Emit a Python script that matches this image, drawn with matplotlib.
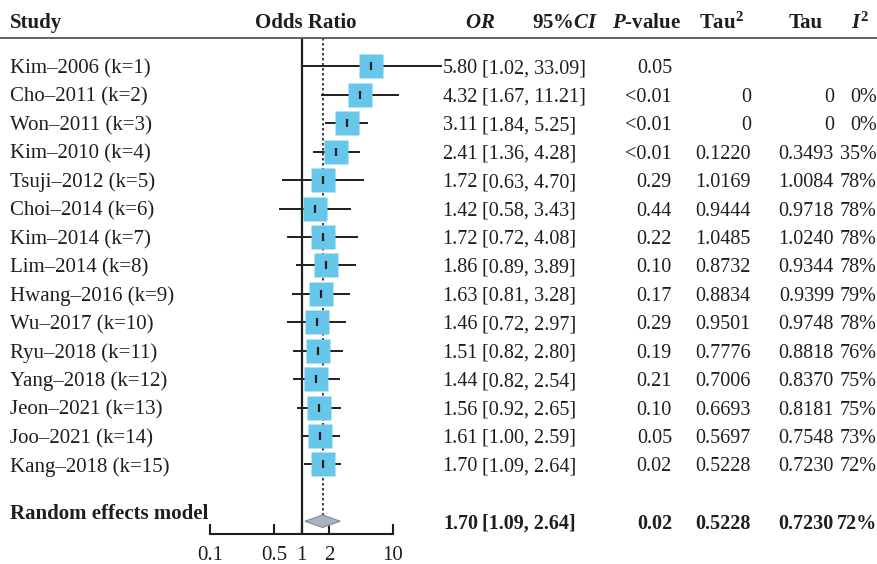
import matplotlib
matplotlib.use("Agg")
import matplotlib.pyplot as plt
from matplotlib.lines import Line2D
from matplotlib import transforms

studies = ["Kim–2006 (k=1)", "Cho–2011 (k=2)", "Won–2011 (k=3)", "Kim–2010 (k=4)",
           "Tsuji–2012 (k=5)", "Choi–2014 (k=6)", "Kim–2014 (k=7)", "Lim–2014 (k=8)",
           "Hwang–2016 (k=9)", "Wu–2017 (k=10)", "Ryu–2018 (k=11)", "Yang–2018 (k=12)",
           "Jeon–2021 (k=13)", "Joo–2021 (k=14)", "Kang–2018 (k=15)"]
odds = [5.80, 4.32, 3.11, 2.41, 1.72, 1.42, 1.72, 1.86, 1.63, 1.46, 1.51, 1.44, 1.56, 1.61, 1.70]
ci_lo = [1.02, 1.67, 1.84, 1.36, 0.63, 0.58, 0.72, 0.89, 0.81, 0.72, 0.82, 0.82, 0.92, 1.00, 1.09]
ci_hi = [33.09, 11.21, 5.25, 4.28, 4.70, 3.43, 4.08, 3.89, 3.28, 2.97, 2.80, 2.54, 2.65, 2.59, 2.64]
pvals = ["0.05", "<0.01", "<0.01", "<0.01", "0.29", "0.44", "0.22", "0.10", "0.17",
         "0.29", "0.19", "0.21", "0.10", "0.05", "0.02"]
tau2 = ["", "0", "0", "0.1220", "1.0169", "0.9444", "1.0485", "0.8732", "0.8834",
        "0.9501", "0.7776", "0.7006", "0.6693", "0.5697", "0.5228"]
tau = ["", "0", "0", "0.3493", "1.0084", "0.9718", "1.0240", "0.9344", "0.9399",
       "0.9748", "0.8818", "0.8370", "0.8181", "0.7548", "0.7230"]
i2 = ["", "0%", "0%", "35%", "78%", "78%", "78%", "78%", "79%", "78%", "76%", "75%",
      "75%", "73%", "72%"]

pooled = 1.70
pooled_lo = 1.09
pooled_hi = 2.64
pooled_p = "0.02"
pooled_tau2 = "0.5228"
pooled_tau = "0.7230"
pooled_i2 = "72%"

xticks = [0.1, 0.5, 1, 2, 10]
xticklabels = ["0.1", "0.5", "1", "2", "10"]

plt.rcParams["font.family"] = "Liberation Serif"
plt.rcParams["mathtext.fontset"] = "custom"
plt.rcParams["mathtext.rm"] = "Liberation Serif:bold"
plt.rcParams["mathtext.it"] = "Liberation Serif:italic:bold"

W, H = 878, 564
fig = plt.figure(figsize=(W / 100, H / 100), dpi=100)
ax = fig.add_axes([210 / W, (H - 534) / H, 183 / W, 496 / H])
ax.set_xscale("log")
ax.set_xlim(0.1, 10)
ax.set_ylim(17.45, 0)

ink = "#1e1e1e"
fs = 15      # labels
fv = 14.5    # numbers

rows = list(range(1, len(studies) + 1))
for y, o, lo, hi in zip(rows, odds, ci_lo, ci_hi):
    ax.plot([lo, hi], [y, y], color=ink, lw=1.4, clip_on=False, zorder=2)
    ax.plot(o, y, marker="s", ms=17, color="#66C7EA", mec="none", clip_on=False, zorder=3)
    ax.plot(o, y, marker="|", ms=6, mew=1.6, color=ink, clip_on=False, zorder=4)

y_sum = 17
ax.fill([pooled_lo, pooled, pooled_hi, pooled], [y_sum, y_sum - 0.22, y_sum, y_sum + 0.22],
        facecolor="#A9B4BE", edgecolor="#7f8b96", lw=0.8, zorder=3)

ax.axvline(1, color=ink, lw=1.6, zorder=1)
ax.plot([pooled, pooled], [0, y_sum - 0.22], color=ink, lw=1.2, ls=(0, (1.5, 1.5)), zorder=1)

for s in ["top", "left", "right"]:
    ax.spines[s].set_visible(False)
ax.spines["bottom"].set_linewidth(1.5)
ax.spines["bottom"].set_color(ink)
ax.set_yticks([])
ax.set_xticks(xticks)
ax.set_xticklabels(xticklabels)
ax.minorticks_off()
ax.tick_params(axis="x", direction="in", length=7, width=1.5, color=ink,
               labelsize=fs, labelcolor=ink, pad=9)

fig.add_artist(Line2D([0, 1], [(H - 38) / H, (H - 38) / H], color="#555555", lw=1.3))

tr = transforms.blended_transform_factory(fig.transFigure, ax.transData)

def put(xpx, y, s, ha="right", size=fv, **kw):
    fig.text(xpx / W, y, s, transform=tr, ha=ha, va="center_baseline", fontsize=size,
             color=ink, **kw)

# header
yh = -0.6
put(10, yh, "Study", ha="left", size=fs, fontweight="bold")
put(306, yh, "Odds Ratio", ha="center", size=fs, fontweight="bold")
put(480, yh, "$OR$", ha="center", size=fs, fontweight="bold")
put(565, yh, "95%$CI$", ha="center", size=fs, fontweight="bold")
put(646, yh, "$P$-value", ha="center", size=fs, fontweight="bold")
put(721, yh, "Tau$^{2}$", ha="center", size=fs, fontweight="bold")
put(806, yh, "Tau", ha="center", size=fs, fontweight="bold")
put(860, yh, "$I^{2}$", ha="center", size=fs, fontweight="bold")

for y, name, o, lo, hi, p, t2, t, i in zip(rows, studies, odds, ci_lo, ci_hi, pvals, tau2, tau, i2):
    put(10, y, name, ha="left", size=fs)
    put(478, y, f"{o:.2f}")
    put(482, y, f"[{lo:.2f}, {hi:.2f}]", ha="left")
    put(672, y, p)
    put(751, y, t2)
    put(834, y, t)
    put(877, y, i)

put(10, 16.65, "Random effects model", ha="left", size=fs, fontweight="bold")
put(478, y_sum, f"{pooled:.2f}", fontweight="bold")
put(482, y_sum, f"[{pooled_lo:.2f}, {pooled_hi:.2f}]", ha="left", fontweight="bold")
put(672, y_sum, pooled_p, fontweight="bold")
put(751, y_sum, pooled_tau2, fontweight="bold")
put(834, y_sum, pooled_tau, fontweight="bold")
put(877, y_sum, pooled_i2, fontweight="bold")

fig.savefig("out.png", dpi=100)
